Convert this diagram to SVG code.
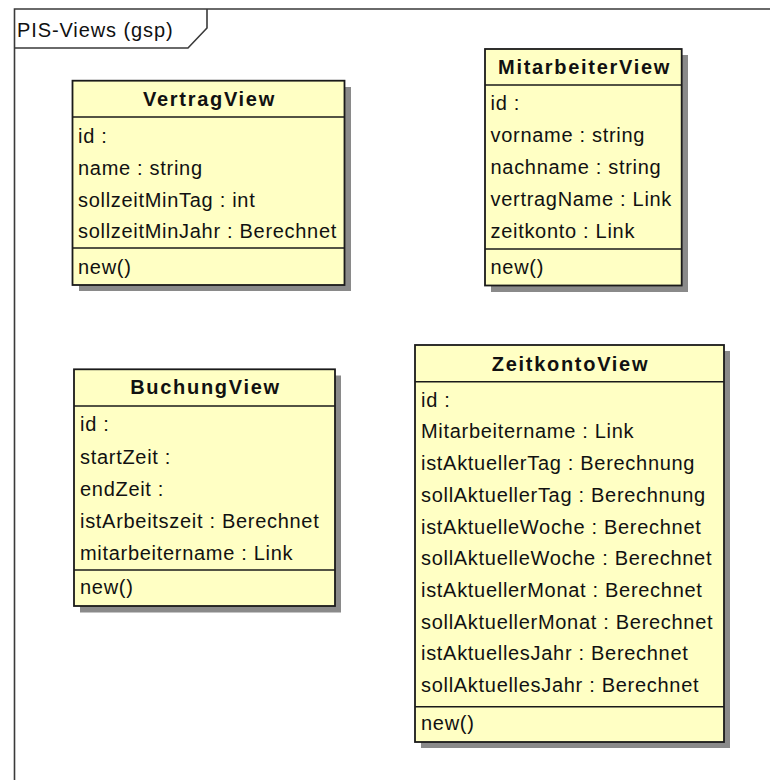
<svg xmlns="http://www.w3.org/2000/svg" width="770" height="780" viewBox="0 0 770 780">
<style>
.frame{fill:none;stroke:#3a3a3a;stroke-width:1.6}
.box{fill:#ffffc4;stroke:#1a1a1a;stroke-width:1.8}
.shadow{fill:#8a8a8a}
.div{stroke:#1a1a1a;stroke-width:1.5}
.t{font-family:"Liberation Sans",Arial,sans-serif;font-size:20px;letter-spacing:0.7px;fill:#111}
.h{font-family:"Liberation Sans",Arial,sans-serif;font-size:20px;font-weight:bold;letter-spacing:1.7px;fill:#111;text-anchor:middle}
</style>
<rect width="770" height="780" fill="#ffffff"/>
<g id="frame">
<path class="frame" d="M14.5,780 V9 H770"/>
<path class="frame" d="M207,9 V28 L188,48 H14.5"/>
<text class="t" x="17" y="37" style="letter-spacing:0.9px">PIS-Views (gsp)</text>
</g>
<g id="connectors"></g>
<g id="VertragView">
<rect class="shadow" x="79" y="87" width="272" height="204"/>
<rect class="box" x="72.5" y="80.7" width="272" height="204.3"/>
<line class="div" x1="72.5" y1="117" x2="344.5" y2="117"/>
<line class="div" x1="72.5" y1="248" x2="344.5" y2="248"/>
<text class="h" x="209.5" y="106">VertragView</text>
<text class="t" x="78" y="142.5">id :</text>
<text class="t" x="78" y="174.5">name : string</text>
<text class="t" x="78" y="206.5">sollzeitMinTag : int</text>
<text class="t" x="78" y="238">sollzeitMinJahr : Berechnet</text>
<text class="t" x="78" y="273.5">new()</text>
</g>
<g id="MitarbeiterView">
<rect class="shadow" x="491" y="55" width="197" height="237"/>
<rect class="box" x="485" y="49" width="196.7" height="236.5"/>
<line class="div" x1="485" y1="85" x2="681.7" y2="85"/>
<line class="div" x1="485" y1="249" x2="681.7" y2="249"/>
<text class="h" x="584.5" y="73.5">MitarbeiterView</text>
<text class="t" x="490.5" y="110">id :</text>
<text class="t" x="490.5" y="142">vorname : string</text>
<text class="t" x="490.5" y="174">nachname : string</text>
<text class="t" x="490.5" y="206">vertragName : Link</text>
<text class="t" x="490.5" y="238">zeitkonto : Link</text>
<text class="t" x="490.5" y="274">new()</text>
</g>
<g id="BuchungView">
<rect class="shadow" x="80" y="375.5" width="261" height="237"/>
<rect class="box" x="74" y="369.3" width="261" height="236.7"/>
<line class="div" x1="74" y1="406" x2="335" y2="406"/>
<line class="div" x1="74" y1="570" x2="335" y2="570"/>
<text class="h" x="205.5" y="394">BuchungView</text>
<text class="t" x="80" y="431">id :</text>
<text class="t" x="80" y="463.5">startZeit :</text>
<text class="t" x="80" y="496">endZeit :</text>
<text class="t" x="80" y="528">istArbeitszeit : Berechnet</text>
<text class="t" x="80" y="559.5">mitarbeitername : Link</text>
<text class="t" x="80" y="594">new()</text>
</g>
<g id="ZeitkontoView">
<rect class="shadow" x="421" y="351" width="309" height="397"/>
<rect class="box" x="415" y="345" width="309" height="397"/>
<line class="div" x1="415" y1="381.7" x2="724" y2="381.7"/>
<line class="div" x1="415" y1="706.7" x2="724" y2="706.7"/>
<text class="h" x="570.5" y="370.5">ZeitkontoView</text>
<text class="t" x="421" y="406.5">id :</text>
<text class="t" x="421" y="438">Mitarbeitername : Link</text>
<text class="t" x="421" y="470">istAktuellerTag : Berechnung</text>
<text class="t" x="421" y="501.5">sollAktuellerTag : Berechnung</text>
<text class="t" x="421" y="533.5">istAktuelleWoche : Berechnet</text>
<text class="t" x="421" y="565">sollAktuelleWoche : Berechnet</text>
<text class="t" x="421" y="597">istAktuellerMonat : Berechnet</text>
<text class="t" x="421" y="628.5">sollAktuellerMonat : Berechnet</text>
<text class="t" x="421" y="660">istAktuellesJahr : Berechnet</text>
<text class="t" x="421" y="691.5">sollAktuellesJahr : Berechnet</text>
<text class="t" x="421" y="729.5">new()</text>
</g>
</svg>
